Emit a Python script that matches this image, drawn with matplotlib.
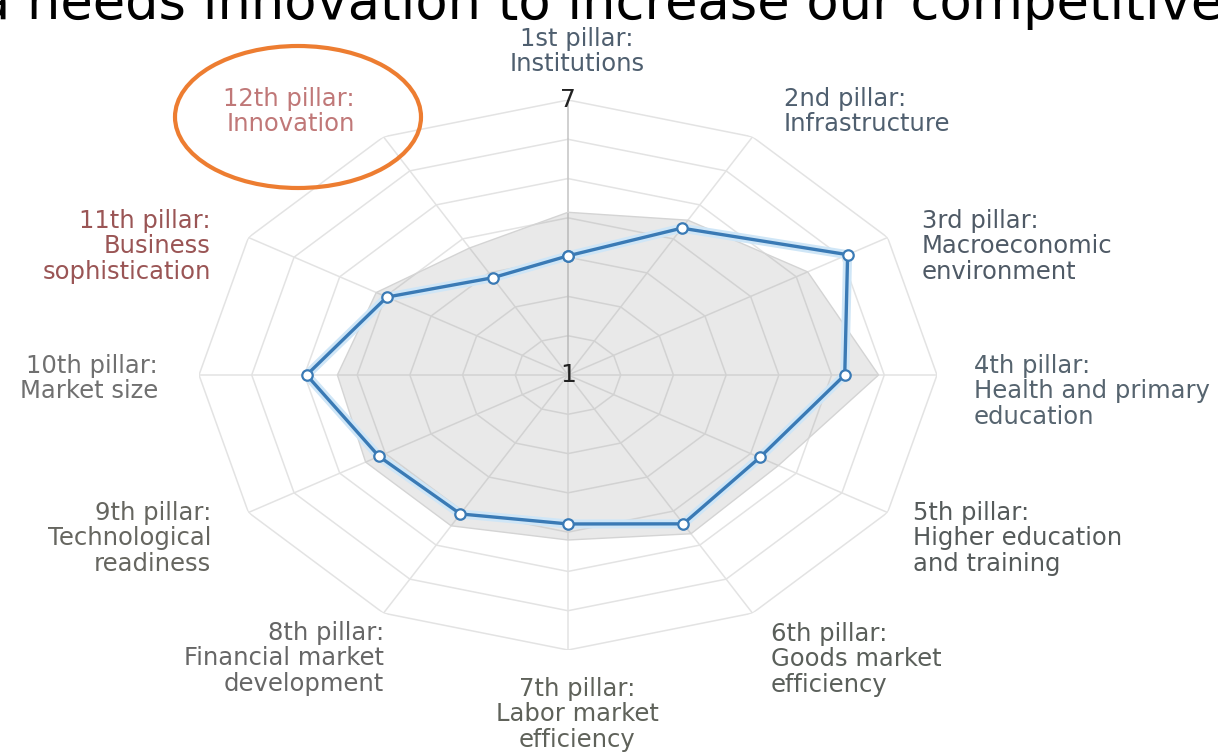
import numpy as np
import matplotlib.pyplot as plt
from matplotlib.patches import Ellipse

W, H = 1218, 752

pillars = ["1st pillar:\nInstitutions",
           "2nd pillar:\nInfrastructure",
           "3rd pillar:\nMacroeconomic\nenvironment",
           "4th pillar:\nHealth and primary\neducation",
           "5th pillar:\nHigher education\nand training",
           "6th pillar:\nGoods market\nefficiency",
           "7th pillar:\nLabor market\nefficiency",
           "8th pillar:\nFinancial market\ndevelopment",
           "9th pillar:\nTechnological\nreadiness",
           "10th pillar:\nMarket size",
           "11th pillar:\nBusiness\nsophistication",
           "12th pillar:\nInnovation"]

# score of the country (blue line) and the comparison group (grey area)
country = [3.6, 4.7, 6.25, 5.5, 4.6, 4.75, 4.25, 4.5, 4.55, 5.25, 4.4, 3.45]
benchmark = [4.55, 4.9, 5.5, 6.05, 4.95, 5.0, 4.6, 4.8, 4.8, 4.75, 4.6, 4.2]

r_min, r_max = 1, 7

# label layout in pixels: x, y of first line, alignment, colour
label_pos = [(577, 40, "center", "#4f5f6f"),
             (784, 100, "left", "#4f5f6f"),
             (922, 222, "left", "#4f5a66"),
             (974, 367, "left", "#56646f"),
             (913, 514, "left", "#555a5a"),
             (771, 635, "left", "#5a5f5a"),
             (577, 690, "center", "#5f625a"),
             (384, 634, "right", "#666666"),
             (211, 514, "right", "#666660"),
             (158, 367, "right", "#707070"),
             (211, 222, "right", "#9a5555"),
             (355, 100, "right", "#c07878")]

fig = plt.figure(figsize=(W / 100, H / 100), dpi=100)

ax = fig.add_axes([199 / W, 102 / H, 738 / W, 550 / H], projection="polar")
ax.set_aspect("auto")
ax.set_theta_zero_location("N")
ax.set_theta_direction(-1)
ax.set_ylim(r_min, r_max)
ax.set_xticks([])
ax.set_yticks([])
ax.grid(False)
ax.spines["polar"].set_visible(False)

n = len(pillars)
theta = np.arange(n) * 2 * np.pi / n
closed = np.append(theta, theta[0])

# polygon grid
for v in np.linspace(r_min, r_max, 8)[1:]:
    ax.plot(closed, [v] * (n + 1), color="#e3e3e3", lw=1.1, zorder=1)
for i, t in enumerate(theta):
    ax.plot([t, t], [r_min, r_max], color="#c4c4c4" if i == 0 else "#e3e3e3",
            lw=1.1, zorder=1)

ax.fill(closed, benchmark + benchmark[:1], facecolor="#8c8c8c", alpha=0.19,
        edgecolor="none", zorder=2)
ax.plot(closed, benchmark + benchmark[:1], color="#d4d4d4", lw=1, zorder=2)

ax.plot(closed, country + country[:1], color="#cfe6f7", lw=6.5, zorder=3,
        solid_joinstyle="round")
ax.plot(closed, country + country[:1], color="#3a7ab5", lw=2.4, zorder=4,
        marker="o", ms=7.5, mfc="white", mec="#3a7ab5", mew=1.6)

ax.text(0, r_max, "7", ha="center", va="center", fontsize=18, color="#222222",
        zorder=5)
ax.text(0, r_min, "1", ha="center", va="center", fontsize=18, color="#222222",
        zorder=5)

ov = fig.add_axes([0, 0, 1, 1])
ov.set_xlim(0, W)
ov.set_ylim(H, 0)
ov.axis("off")

for text, (x, y, ha, c) in zip(pillars, label_pos):
    ov.text(x, y - 13, text, ha=ha, va="top", fontsize=17.5, color=c,
            linespacing=1.07)

ov.text(-22, 19, "a needs innovation to increase our competitiveness",
        fontsize=38, color="black", va="baseline", ha="left")

ov.add_patch(Ellipse((298, 117), 246, 142, fill=False, ec="#ed7d31", lw=3))

fig.savefig("out.png", dpi=100)
